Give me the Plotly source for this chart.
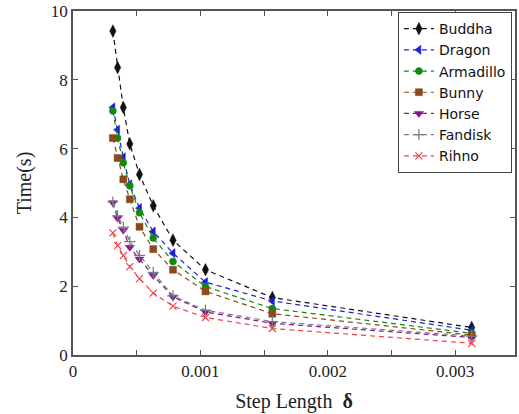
import plotly.graph_objects as go

# Step lengths (x) shared by all models
step_length = [0.000313, 0.000350, 0.000395, 0.000446, 0.000522,
               0.000630, 0.000785, 0.001040, 0.001565, 0.003130]

buddha    = [9.42, 8.36, 7.20, 6.14, 5.25, 4.34, 3.34, 2.48, 1.67, 0.80]
dragon    = [7.20, 6.55, 5.75, 4.96, 4.27, 3.59, 2.96, 2.12, 1.57, 0.72]
armadillo = [7.10, 6.31, 5.59, 4.92, 4.14, 3.40, 2.72, 1.99, 1.35, 0.63]
bunny     = [6.31, 5.73, 5.11, 4.53, 3.73, 3.08, 2.48, 1.85, 1.20, 0.58]
horse     = [4.43, 3.98, 3.63, 3.13, 2.79, 2.31, 1.69, 1.25, 0.92, 0.51]
fandisk   = [4.45, 4.05, 3.72, 3.30, 2.90, 2.40, 1.72, 1.30, 0.97, 0.55]
rihno     = [3.55, 3.18, 2.89, 2.57, 2.22, 1.80, 1.42, 1.09, 0.77, 0.34]

names = ["Buddha", "Dragon", "Armadillo", "Bunny", "Horse", "Fandisk", "Rihno"]
series = [buddha, dragon, armadillo, bunny, horse, fandisk, rihno]

x_tickvals = [0, 0.001, 0.002, 0.003]
x_ticktext = ["0", "0.001", "0.002", "0.003"]
y_tickvals = [0, 2, 4, 6, 8, 10]

styles = [
    dict(color="#111111", symbol="diamond-tall", size=9),
    dict(color="#1f1fd6", symbol="triangle-left", size=8),
    dict(color="#108a10", symbol="circle", size=7),
    dict(color="#8b4a1c", symbol="square", size=7),
    dict(color="#8a128a", symbol="triangle-down", size=8),
    dict(color="#6f7f7f", symbol="cross-thin", size=8),
    dict(color="#ee4444", symbol="x-thin", size=7),
]

fig = go.Figure()
for name, ys, st in zip(names, series, styles):
    thin = st["symbol"].endswith("-thin")
    fig.add_trace(go.Scatter(
        x=step_length, y=ys, name=name, mode="lines+markers",
        line=dict(color=st["color"], width=1.2, dash="5px,4px"),
        marker=dict(symbol=st["symbol"], size=st["size"], color=st["color"],
                    line=dict(color=st["color"], width=1.2 if thin else 0.5)),
    ))

serif = "Liberation Serif"
fig.update_layout(
    width=519, height=414,
    margin=dict(l=73, r=2, t=9, b=59),
    paper_bgcolor="white", plot_bgcolor="white",
    showlegend=True,
    legend=dict(x=0.993, y=0.997, xanchor="right", yanchor="top",
                bgcolor="white", bordercolor="#444444", borderwidth=1,
                font=dict(family="DejaVu Sans", size=14, color="#111111"),
                tracegroupgap=0, itemwidth=30),
    xaxis=dict(range=[0, 0.00347], tickvals=x_tickvals, ticktext=x_ticktext,
               ticks="inside", ticklen=5, tickcolor="#555555",
               minor=dict(dtick=0.0005, tick0=0, ticks="inside", ticklen=5, tickcolor="#555555"),
               showline=True, mirror="ticks", linecolor="#555555", linewidth=1.5,
               showgrid=False, zeroline=False,
               tickfont=dict(family=serif, size=17, color="#222222"),
               title=dict(text="Step Length  <b>δ</b>", standoff=14,
                          font=dict(family=serif, size=20, color="#222222"))),
    yaxis=dict(range=[-0.0005, 10.005], tickvals=y_tickvals,
               ticks="inside", ticklen=5, tickcolor="#555555",
               showline=True, mirror="ticks", linecolor="#555555", linewidth=1.5,
               showgrid=False, zeroline=False,
               tickfont=dict(family=serif, size=17, color="#222222"),
               title=dict(text="Time(s)", standoff=14,
                          font=dict(family=serif, size=20, color="#222222"))),
)

fig.write_html("out.html", config={"displayModeBar": False},
               post_script="document.body.style.margin='0';")
